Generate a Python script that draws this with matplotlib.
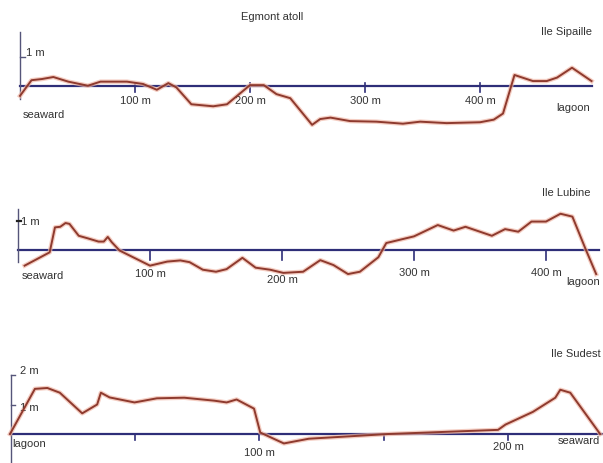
import matplotlib.pyplot as plt

# Beach profiles, Egmont atoll: distance (m) and height above reference (m)
sip_x = [0, 10, 19, 29, 42, 59, 70, 93, 107, 119, 129, 136, 149, 168, 180, 200,
         212, 223, 235, 254, 261, 270, 287, 310, 333, 348, 371, 400, 412, 420,
         430, 446, 458, 467, 480, 497]
sip_y = [-0.34, 0.2, 0.24, 0.31, 0.15, 0.01, 0.15, 0.15, 0.07, -0.13, 0.1, -0.05,
         -0.63, -0.7, -0.63, 0.03, 0.03, -0.28, -0.42, -1.34, -1.14, -1.09, -1.21,
         -1.23, -1.3, -1.23, -1.28, -1.25, -1.16, -0.95, 0.38, 0.17, 0.17, 0.29,
         0.63, 0.17]

lub_x = [5, 24, 28, 32, 36, 39, 46, 53, 61, 65, 68, 71, 77, 100, 113, 123, 130,
         140, 150, 158, 170, 180, 191, 201, 216, 229, 239, 250, 259, 273, 279,
         300, 318, 330, 339, 359, 369, 379, 389, 400, 411, 420, 430, 438]
lub_y = [-0.55, -0.09, 0.77, 0.79, 0.92, 0.89, 0.48, 0.39, 0.28, 0.28, 0.44,
         0.26, -0.03, -0.55, -0.41, -0.37, -0.43, -0.69, -0.76, -0.67, -0.28,
         -0.62, -0.69, -0.8, -0.76, -0.36, -0.53, -0.84, -0.76, -0.26, 0.23,
         0.46, 0.85, 0.66, 0.79, 0.48, 0.71, 0.62, 0.97, 0.97, 1.24, 1.14, 0.02,
         -0.84]

sud_x = [0, 10, 15, 20, 29, 35, 36.5, 40, 50, 59, 70, 82, 87, 91, 98, 100.5,
         110, 120, 152, 196, 199, 210, 219, 221, 225, 237]
sud_y = [0.0, 1.53, 1.56, 1.4, 0.7, 1.0, 1.4, 1.24, 1.07, 1.21, 1.23, 1.13, 1.07,
         1.17, 0.86, 0.05, -0.32, -0.16, 0.0, 0.14, 0.32, 0.75, 1.23, 1.5, 1.4, 0.0]

sip_ticks = [100, 200, 300, 400]
lub_ticks = [100, 200, 300, 400]
sud_ticks = [50, 100, 150, 200]

W, H = 603, 464
fig = plt.figure(figsize=(W / 100, H / 100), dpi=100)
plt.rcParams['font.family'] = 'Liberation Sans'

LINE = '#8e3a2e'
HALO = '#f0b8a8'
BASE = '#2e2e78'
AXIS = '#55557a'


def panel(x0, y0, sx, sy, xlim, ylim):
    # x0, y0: pixel position of the origin; sx, sy: pixels per metre
    left = x0 + xlim[0] * sx
    right = x0 + xlim[1] * sx
    top = y0 - ylim[1] * sy
    bottom = y0 - ylim[0] * sy
    ax = fig.add_axes([left / W, 1 - bottom / H, (right - left) / W,
                       (bottom - top) / H])
    ax.set_xlim(*xlim)
    ax.set_ylim(*ylim)
    ax.axis('off')
    return ax


def profile(ax, x, y, xend, ticks, tick_len):
    ax.plot([0, xend], [0, 0], color=BASE, lw=1.6, zorder=2)
    for t in ticks:
        ax.plot([t, t], [tick_len[0], tick_len[1]], color=BASE, lw=1.2, zorder=2)
    ax.plot(x, y, color=HALO, lw=3.2, alpha=0.7, zorder=3,
            solid_joinstyle='round')
    ax.plot(x, y, color=LINE, lw=1.4, zorder=4, solid_joinstyle='round')


# Ile Sipaille
ax1 = panel(20, 87, 1.15, 29, (-15, 505), (-1.6, 2.1))
profile(ax1, sip_x, sip_y, 497, sip_ticks, (-0.2, 0.1))
ax1.plot([0, 0], [-0.45, 1.86], color=AXIS, lw=1)
ax1.plot([0, 4], [1, 1], color=AXIS, lw=1)
ax1.text(5, 1.0, '1 m', fontsize=8, color='#333333', va='bottom', ha='left')
ax1.text(2, -0.8, 'seaward', fontsize=8, color='#333333', va='top', ha='left')
for t in sip_ticks:
    ax1.text(t, -0.3, f'{t} m', fontsize=8, color='#333333', va='top', ha='center')
ax1.text(496, -0.55, 'lagoon', fontsize=8, color='#333333', va='top', ha='right')
ax1.text(497, 1.9, 'Ile Sipaille', fontsize=8, color='#333333', ha='right',
         va='center')
ax1.text(219, 2.4, 'Egmont atoll', fontsize=8, color='#333333', ha='center',
         va='center', clip_on=False)

# Ile Lubine
ax2 = panel(18, 250.7, 1.32, 29, (-10, 445), (-1.6, 2.4))
profile(ax2, lub_x, lub_y, 440, lub_ticks, (-0.35, 0.0))
ax2.plot([0, 0], [-0.42, 1.4], color=AXIS, lw=1)
ax2.plot([-1, 2], [1, 1], color='#222222', lw=1.6)
ax2.text(2, 1.0, '1 m', fontsize=8, color='#333333', va='center', ha='left')
ax2.text(3, -0.7, 'seaward', fontsize=8, color='#333333', va='top', ha='left')
label_y2 = {100: -0.62, 200: -0.85, 300: -0.6, 400: -0.6}
for t in lub_ticks:
    ax2.text(t, label_y2[t], f'{t} m', fontsize=8, color='#333333', va='top',
             ha='center')
ax2.text(441, -0.9, 'lagoon', fontsize=8, color='#333333', va='top', ha='right')
ax2.text(434, 2.0, 'Ile Lubine', fontsize=8, color='#333333', ha='right',
         va='center')

# Ile Sudest
ax3 = panel(10, 435, 2.49, 29.5, (-5, 238), (-1.0, 3.2))
profile(ax3, sud_x, sud_y, 238, sud_ticks, (-0.22, 0.0))
ax3.plot([0.4, 0.4], [-1.0, 2.0], color=AXIS, lw=1)
ax3.plot([0.4, 2.2], [2, 2], color=AXIS, lw=1)
ax3.plot([0.4, 2.2], [1, 1], color=AXIS, lw=1)
ax3.text(4, 2.0, '2 m', fontsize=8, color='#333333', va='bottom', ha='left')
ax3.text(4, 0.93, '1 m', fontsize=8, color='#333333', va='center', ha='left')
ax3.text(1, -0.12, 'lagoon', fontsize=8, color='#333333', va='top', ha='left')
label_y3 = {100: -0.45, 200: -0.25}
for t in [100, 200]:
    ax3.text(t, label_y3[t], f'{t} m', fontsize=8, color='#333333', va='top',
             ha='center')
ax3.text(237, -0.05, 'seaward', fontsize=8, color='#333333', va='top',
         ha='right')
ax3.text(237, 2.75, 'Ile Sudest', fontsize=8, color='#333333', ha='right',
         va='center')

fig.savefig('out.png', dpi=100)
